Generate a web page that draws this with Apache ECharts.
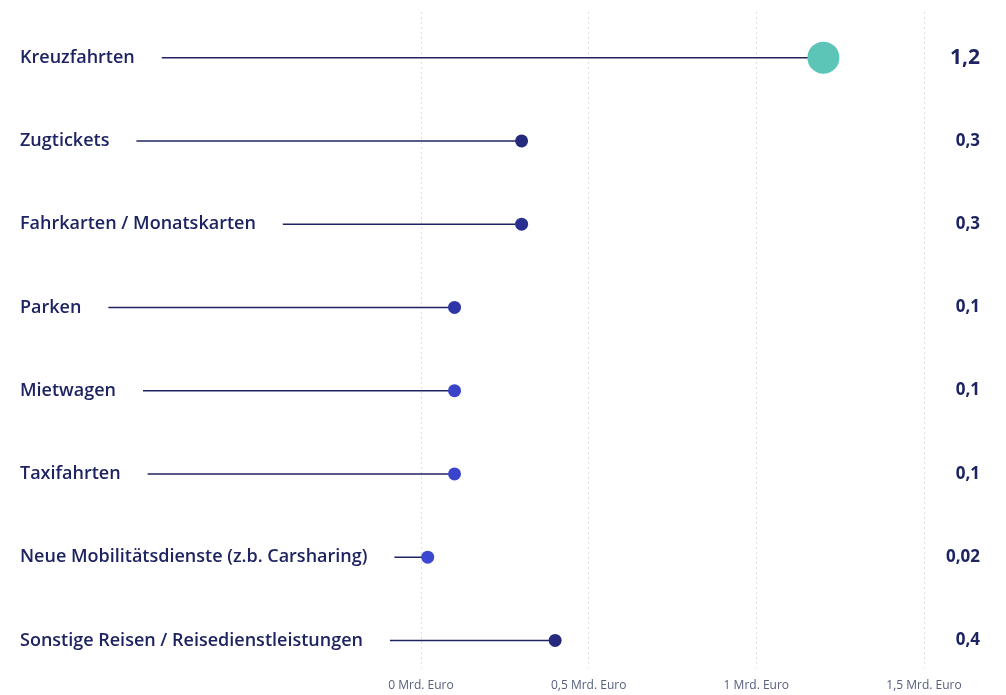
<!DOCTYPE html>
<html>
<head>
<meta charset="utf-8">
<script src="https://cdn.jsdelivr.net/npm/echarts@6/dist/echarts.min.js"></script>
<style>
  html, body { margin: 0; padding: 0; background: #ffffff; }
  #chart { width: 1006px; height: 695px; }
</style>
</head>
<body>
<div id="chart"></div>
<script>
// Ausgaben für Mobilität und Reisen (Mrd. Euro)
const categories = [
  'Kreuzfahrten',
  'Zugtickets',
  'Fahrkarten / Monatskarten',
  'Parken',
  'Mietwagen',
  'Taxifahrten',
  'Neue Mobilitätsdienste (z.b. Carsharing)',
  'Sonstige Reisen / Reisedienstleistungen'
];
const values = [1.2, 0.3, 0.3, 0.1, 0.1, 0.1, 0.02, 0.4];
const axisTicks = [0, 0.5, 1, 1.5];
const axisTickLabels = ['0 Mrd. Euro', '0,5 Mrd. Euro', '1 Mrd. Euro', '1,5 Mrd. Euro'];

// styling
const NAVY = '#1e2461';
const dotColors = ['#5cc5b8', '#252a7c', '#2a3090', '#2e35a8', '#3a44c8', '#3b45cc', '#3d48d2', '#252a7c'];
const LABEL_FONT_SIZE = 18;
const LABEL_WEIGHT = 600;
const LABEL_FAMILY = '"Open Sans", sans-serif';
const LABEL_FONT = LABEL_WEIGHT + ' ' + LABEL_FONT_SIZE + 'px ' + LABEL_FAMILY;
const LABEL_X = 20;
const LINE_GAP = 27;

const measureCtx = document.createElement('canvas').getContext('2d');
function textWidth(str) {
  measureCtx.font = LABEL_FONT;
  return measureCtx.measureText(str).width;
}
function fmt(v) { return String(v).replace('.', ','); }

const chart = echarts.init(document.getElementById('chart'), null, { renderer: 'canvas' });

const GRID_LEFT = 421;
const GRID_RIGHT = 82;

chart.setOption({
  animation: false,
  backgroundColor: '#ffffff',
  grid: [
    { left: GRID_LEFT, right: GRID_RIGHT, top: 16, bottom: 13 },
    { left: GRID_LEFT, right: GRID_RIGHT, top: 12, bottom: 27 }
  ],
  xAxis: [
    {
      gridIndex: 0, type: 'value', min: 0, max: 1.5, interval: 0.5,
      axisLine: { show: false }, axisTick: { show: false },
      axisLabel: { show: false }, splitLine: { show: false }
    },
    {
      gridIndex: 1, type: 'value', min: 0, max: 1.5, interval: 0.5,
      axisLine: { show: false }, axisTick: { show: false },
      splitLine: { show: true, lineStyle: { color: '#dcdde2', type: [2, 3], width: 1 } },
      axisLabel: {
        margin: 12,
        color: '#56607e',
        fontSize: 12,
        fontFamily: LABEL_FAMILY,
        formatter: function (v) {
          const i = axisTicks.indexOf(v);
          return i >= 0 ? axisTickLabels[i] : '';
        }
      }
    }
  ],
  yAxis: [
    {
      gridIndex: 0, type: 'category', data: categories, inverse: true,
      axisLine: { show: false }, axisTick: { show: false }, splitLine: { show: false },
      axisLabel: {
        align: 'left',
        margin: GRID_LEFT - LABEL_X,
        color: NAVY,
        fontSize: LABEL_FONT_SIZE,
        fontWeight: LABEL_WEIGHT,
        fontFamily: LABEL_FAMILY
      }
    },
    {
      gridIndex: 0, type: 'category', data: categories, inverse: true, position: 'right',
      axisLine: { show: false }, axisTick: { show: false }, splitLine: { show: false },
      axisLabel: {
        align: 'right',
        margin: 56,
        formatter: function (name, idx) {
          return idx === 0 ? '{big|' + fmt(values[idx]) + '}' : '{sm|' + fmt(values[idx]) + '}';
        },
        rich: {
          big: { color: NAVY, fontSize: 21, fontWeight: 'bold', fontFamily: LABEL_FAMILY },
          sm: { color: NAVY, fontSize: 17, fontWeight: 'bold', fontFamily: LABEL_FAMILY }
        }
      }
    },
    {
      gridIndex: 1, type: 'value', min: 0, max: 1, show: false
    }
  ],
  series: [
    {
      // stems from the end of each category label to its value
      type: 'custom',
      xAxisIndex: 0, yAxisIndex: 0,
      data: values.map(function (v, i) { return [v, i]; }),
      renderItem: function (params, api) {
        const i = params.dataIndex;
        const end = api.coord([api.value(0), i]);
        const startX = LABEL_X + textWidth(categories[i]) + LINE_GAP;
        return {
          type: 'line',
          shape: { x1: startX, y1: end[1], x2: end[0], y2: end[1] },
          style: { stroke: NAVY, lineWidth: 1.5 }
        };
      },
      z: 2
    },
    {
      type: 'scatter',
      xAxisIndex: 0, yAxisIndex: 0,
      data: values.map(function (v, i) {
        return {
          value: [v, categories[i]],
          symbolSize: i === 0 ? 32 : 13,
          itemStyle: { color: dotColors[i], opacity: 1 }
        };
      }),
      z: 3
    }
  ]
});
</script>
</body>
</html>
